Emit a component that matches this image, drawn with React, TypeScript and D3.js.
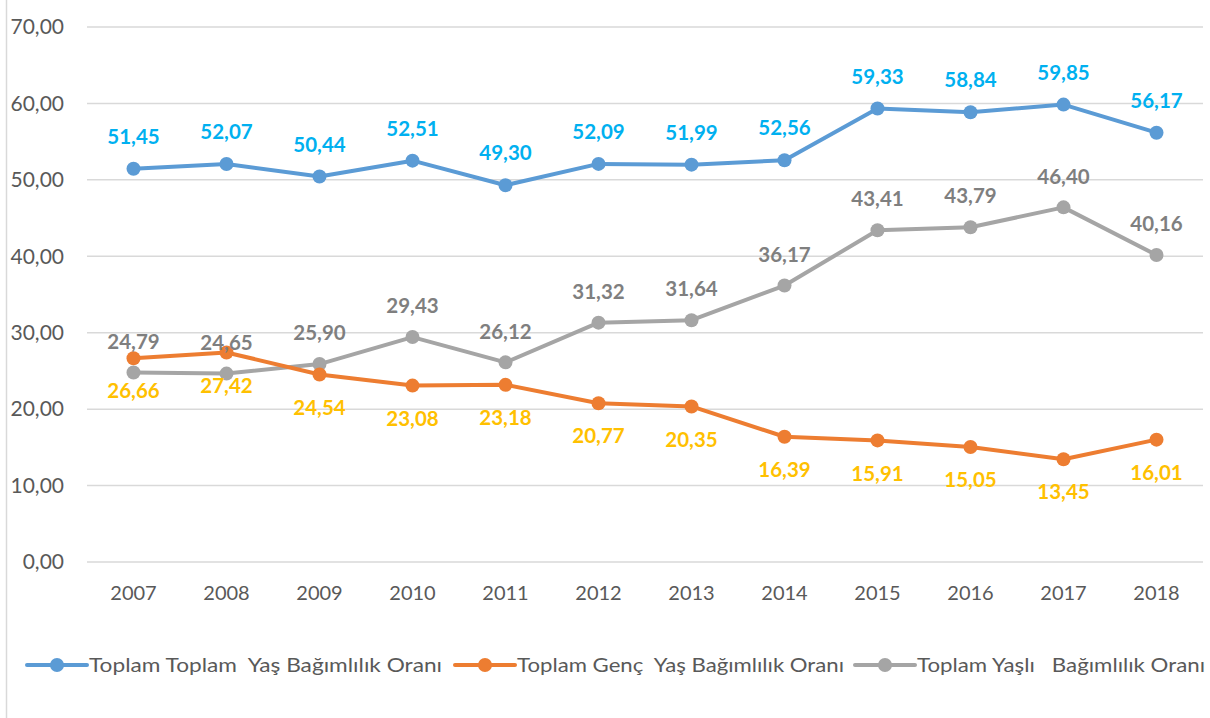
import React from 'react';
import * as d3 from 'd3';

const years = ['2007', '2008', '2009', '2010', '2011', '2012', '2013', '2014', '2015', '2016', '2017', '2018'];
const totalValues = [51.45, 52.07, 50.44, 52.51, 49.3, 52.09, 51.99, 52.56, 59.33, 58.84, 59.85, 56.17];
const youngValues = [26.66, 27.42, 24.54, 23.08, 23.18, 20.77, 20.35, 16.39, 15.91, 15.05, 13.45, 16.01];
const oldValues = [24.79, 24.65, 25.9, 29.43, 26.12, 31.32, 31.64, 36.17, 43.41, 43.79, 46.4, 40.16];
const yTicks = [0, 10, 20, 30, 40, 50, 60, 70];

const seriesNames = [
  'Toplam Toplam  Yaş Bağımlılık Oranı',
  'Toplam Genç  Yaş Bağımlılık Oranı',
  'Toplam Yaşlı   Bağımlılık Oranı',
];

const width = 1210;
const height = 718;
const font = 'Lato, "Open Sans", sans-serif';

const fmt = (v: number) => d3.format('.2f')(v).replace('.', ',');

const series = [
  { name: seriesNames[0], values: totalValues, line: '#5B9BD5', label: '#00B0F0', dy: -32 },
  { name: seriesNames[1], values: youngValues, line: '#ED7D31', label: '#FFC000', dy: 33 },
  { name: seriesNames[2], values: oldValues, line: '#A5A5A5', label: '#7F7F7F', dy: -31 },
];

// legend entries: line start and text width
const legendX = [27, 455, 855];
const legendW = [353, 327, 288];

export default function App() {
  const x = d3.scaleBand<string>().domain(years).range([87, 1203]);
  const y = d3.scaleLinear().domain([0, 70]).range([562, 27]);
  const cx = (yr: string) => (x(yr) ?? 0) + x.bandwidth() / 2;

  const line = d3
    .line<number>()
    .x((_, i) => cx(years[i]))
    .y((d) => y(d));

  // draw order: grey, orange, blue on top
  const order = [2, 1, 0];

  return (
    <svg
      width={width}
      height={height}
      style={{ position: 'absolute', left: 0, top: 0, background: '#fff' }}
      fontFamily={font}
    >
      <rect width={width} height={height} fill="#fff" />
      <line x1={6.5} x2={6.5} y1={0} y2={height} stroke="#D9D9D9" strokeWidth={1.5} />

      {yTicks.map((t) => (
        <g key={t}>
          <line x1={87} x2={1203} y1={y(t)} y2={y(t)} stroke="#D9D9D9" strokeWidth={1.5} />
          <text x={64} y={y(t)} dy="0.35em" textAnchor="end" fontSize={21} fill="#595959">
            {fmt(t)}
          </text>
        </g>
      ))}

      {years.map((yr) => (
        <text key={yr} x={cx(yr)} y={600} textAnchor="middle" fontSize={20} fill="#595959">
          {yr}
        </text>
      ))}

      {order.map((si) => {
        const s = series[si];
        return (
          <g key={s.name}>
            <path d={line(s.values) ?? ''} fill="none" stroke={s.line} strokeWidth={4} strokeLinejoin="round" />
            {s.values.map((v, i) => (
              <circle key={i} cx={cx(years[i])} cy={y(v)} r={7} fill={s.line} />
            ))}
          </g>
        );
      })}

      {series.map((s) => (
        <g key={s.name + '-labels'}>
          {s.values.map((v, i) => (
            <text
              key={i}
              x={cx(years[i])}
              y={y(v) + s.dy}
              dy="0.35em"
              textAnchor="middle"
              fontSize={20.5}
              fontWeight="bold"
              fill={s.label}
            >
              {fmt(v)}
            </text>
          ))}
        </g>
      ))}

      {series.map((s, i) => (
        <g key={s.name + '-legend'} transform={`translate(${legendX[i]},665)`}>
          <line x1={0} x2={60} y1={0} y2={0} stroke={s.line} strokeWidth={4} strokeLinecap="round" />
          <circle cx={30} cy={0} r={7} fill={s.line} />
          <text
            x={62}
            y={0}
            dy="0.35em"
            fontSize={20}
            fill="#595959"
            style={{ whiteSpace: 'pre' }}
            textLength={legendW[i]}
            lengthAdjust="spacingAndGlyphs"
          >
            {s.name}
          </text>
        </g>
      ))}
    </svg>
  );
}
